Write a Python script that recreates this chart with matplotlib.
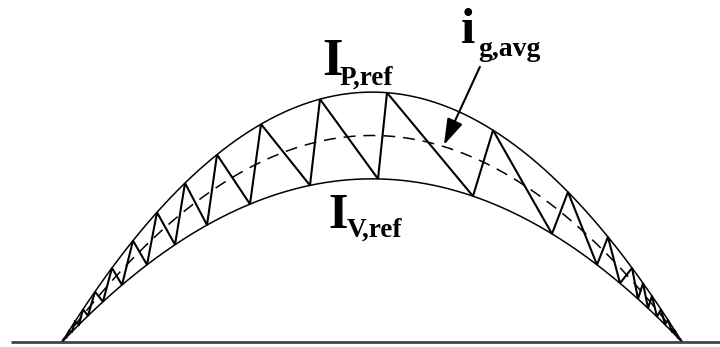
"""Hysteresis current control: inductor current bouncing between peak and
valley references over one half line cycle."""

import matplotlib as mpl
import matplotlib.pyplot as plt
import numpy as np

mpl.rcParams["font.family"] = "Liberation Serif"

# half line cycle, ms
T_HALF = 10.0
# band around the average reference (per unit)
HYST = 0.21

# switching instants (ms): current hits the peak reference / valley reference
T_PEAK = [0.040, 0.113, 0.210, 0.339, 0.532, 0.806, 1.145, 1.532, 1.984,
          2.500, 3.210, 4.161, 5.242, 6.952, 8.161, 8.806, 9.194, 9.371,
          9.516, 9.661, 9.774, 9.887, 9.968]
T_VALLEY = [0.073, 0.161, 0.274, 0.419, 0.661, 0.968, 1.371, 1.823, 2.339,
            3.032, 4.000, 5.097, 6.629, 7.903, 8.629, 9.000, 9.290, 9.452,
            9.597, 9.726, 9.839, 9.935]


def i_avg(t):
    u = (np.asarray(t) - T_HALF / 2) / (T_HALF / 2)
    return 1.0 - u ** 2


def i_peak(t):
    return (1 + HYST) * i_avg(t)


def i_valley(t):
    return (1 - HYST) * i_avg(t)


def zigzag():
    ts, vs = [0.0], [0.0]
    for k, tp in enumerate(T_PEAK):
        ts.append(tp)
        vs.append(i_peak(tp))
        if k < len(T_VALLEY):
            ts.append(T_VALLEY[k])
            vs.append(i_valley(T_VALLEY[k]))
    ts.append(T_HALF)
    vs.append(0.0)
    return ts, vs


fig = plt.figure(figsize=(7.2, 3.47), dpi=100)
ax = fig.add_axes([0, 0, 1, 1])
ax.set_xlim(-1.0, 10.613)
ax.set_ylim(-0.0242, 1.656)
ax.axis("off")

t = np.linspace(0, T_HALF, 400)
ax.plot(t, i_peak(t), color="black", lw=1.1)
ax.plot(t, i_valley(t), color="black", lw=1.1)
ax.plot(t, i_avg(t), color="black", lw=1.1, linestyle=(0, (7.8, 5.2)))

zt, zv = zigzag()
ax.plot(zt, zv, color="black", lw=1.5, solid_joinstyle="miter")

# zero axis
ax.plot([-0.82, 10.613], [0, 0], color="#444444", lw=2.0, solid_capstyle="butt")

# labels
ax.text(4.19, 1.293, "I", fontsize=38, fontweight="bold", va="baseline")
ax.text(4.48, 1.245, "P,ref", fontsize=19.5, fontweight="bold", va="baseline")

ax.text(4.29, 0.550, "I", fontsize=36, fontweight="bold", va="baseline")
ax.text(4.60, 0.508, "V,ref", fontsize=19.5, fontweight="bold", va="baseline")

ax.text(6.44, 1.448, "i", fontsize=37, fontweight="bold", va="baseline")
ax.text(6.71, 1.385, "g,avg", fontsize=20, fontweight="bold", va="baseline")

ax.annotate("", xy=(6.16, 0.954), xytext=(6.74, 1.332),
            arrowprops=dict(arrowstyle="-|>,head_length=0.8,head_width=0.25",
                            mutation_scale=20, lw=1.5, color="black",
                            shrinkA=0, shrinkB=0))

fig.savefig("out.png", dpi=100, facecolor="white")
